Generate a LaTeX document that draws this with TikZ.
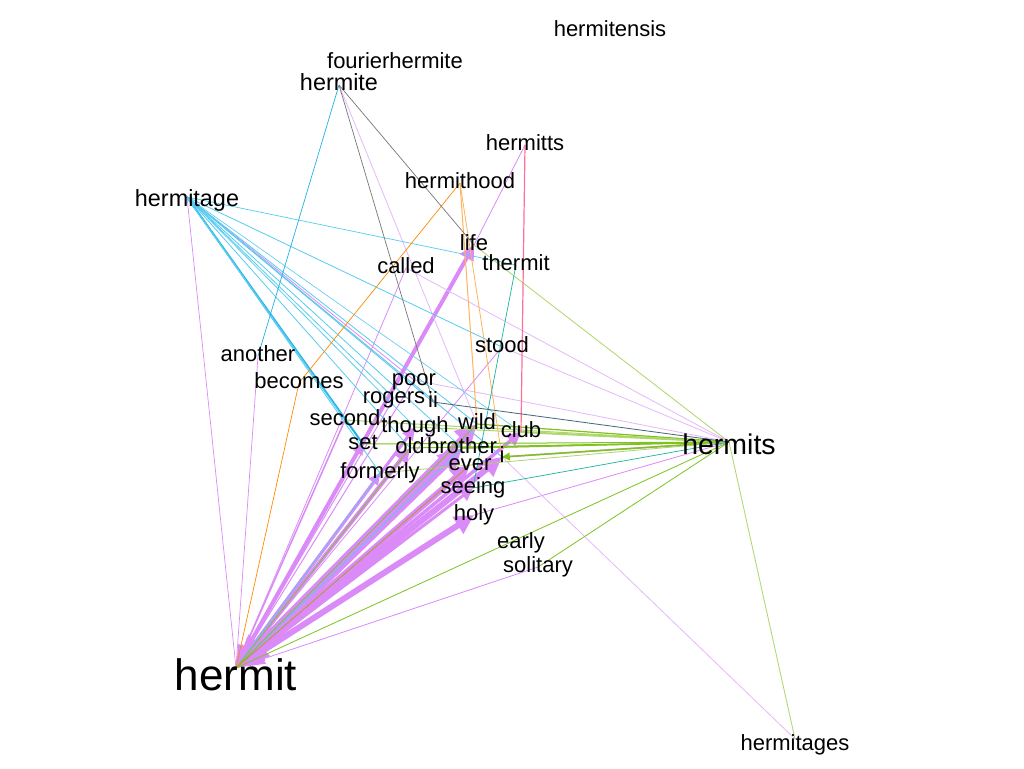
\documentclass[tikz,border=0pt]{standalone}
\usepackage{fontspec}
\setmainfont{Liberation Sans}
\usetikzlibrary{arrows.meta}
\pgfdeclarelayer{bg}
\pgfsetlayers{bg,main}
\definecolor{vio}{HTML}{DB8BF8}
\definecolor{liv}{HTML}{E6B8FA}
\definecolor{cya}{HTML}{55CCF0}
\definecolor{dcy}{HTML}{22B0E8}
\definecolor{grn}{HTML}{7DC21E}
\definecolor{lgr}{HTML}{AED66A}
\definecolor{org}{HTML}{FF8A00}
\definecolor{lor}{HTML}{FFB35A}
\definecolor{pnk}{HTML}{FF7099}
\definecolor{tea}{HTML}{18B59A}
\definecolor{gry}{HTML}{777777}
\definecolor{slt}{HTML}{446677}
\begin{document}
\begin{tikzpicture}[x=1pt,y=-1pt,
  word/.style={inner sep=0pt, text=black, font=\fontsize{22}{22}\selectfont, text height=15.8pt, text depth=4.6pt},
  midword/.style={inner sep=0pt, text=black, font=\fontsize{23.4}{23.4}\selectfont, text height=16.8pt, text depth=4.9pt},
  bigword/.style={inner sep=0pt, text=black, font=\fontsize{28.5}{28.5}\selectfont, text height=20.4pt, text depth=6pt},
  hugeword/.style={inner sep=0pt, text=black, font=\fontsize{44}{44}\selectfont, text height=31.5pt, text depth=9.2pt},
  vA/.style={draw=vio, line width=#1pt, {Triangle[length=12pt 2.6, width=9pt 2.4]}-{Triangle[length=6pt 2.2, width=6pt 2.2]}},
  ln/.style 2 args={draw=#1, line width=#2pt},
  gA/.style={draw=grn, line width=#1pt, -{Triangle[length=4pt 2.5, width=4pt 2.5]}}
]
\path[use as bounding box] (0,0) rectangle (1024,768);

% nodes
\node[word] (hermitensis) at (610,31) {hermitensis};
\node[word] (fourierhermite) at (395,63) {fourierhermite};
\node[midword] (hermite) at (339,85) {hermite};
\node[word] (hermitts) at (525,145) {hermitts};
\node[word] (hermithood) at (460,183) {hermithood};
\node[midword] (hermitage) at (187,201) {hermitage};
\node[word] (life) at (474,245) {life};
\node[word] (thermit) at (516,265) {thermit};
\node[word] (called) at (406,268) {called};
\node[word] (stood) at (502,347) {stood};
\node[word] (another) at (258,356) {another};
\node[word] (becomes) at (299,383) {becomes};
\node[word] (poor) at (414,380) {poor};
\node[word] (rogers) at (394,398) {rogers};
\node[word] (ii) at (433,402) {ii};
\node[word] (second) at (345,420) {second};
\node[word] (though) at (415,427) {though};
\node[word] (wild) at (477,424) {wild};
\node[word] (club) at (521,432) {club};
\node[word] (set) at (363,444) {set};
\node[word] (old) at (410,448) {old};
\node[word] (brother) at (462,448) {brother};
\node[word] (i) at (502,457) {i};
\node[word] (ever) at (470,465) {ever};
\node[word] (formerly) at (380,473) {formerly};
\node[word] (seeing) at (473,488) {seeing};
\node[word] (holy) at (474,515) {holy};
\node[word] (early) at (521,543) {early};
\node[word] (solitary) at (538,567) {solitary};
\node[bigword] (hermits) at (729,447) {hermits};
\node[hugeword] (hermit) at (236,679) {hermit};
\node[word] (hermitages) at (795,745) {hermitages};

\begin{pgfonlayer}{bg}
\fill[white] (0,0) rectangle (1024,768);
% thick violet arrows to hermit
\draw[vA=4] ([yshift=11pt]hermit.center) -- (life.center);
\draw[vA=7] ([yshift=11pt]hermit.center) -- (wild.center);
\draw[vA=8] ([yshift=11pt]hermit.center) -- (brother.center);
\draw[vA=3.5] ([yshift=11pt]hermit.center) -- (club.center);
\draw[vA=6] ([yshift=11pt]hermit.center) -- (i.center);
\draw[vA=6] ([yshift=11pt]hermit.center) -- (ever.center);
\draw[vA=6] ([yshift=11pt]hermit.center) -- (holy.center);
\draw[vA=4] ([yshift=11pt]hermit.center) -- (old.center);
\draw[vA=3] ([yshift=11pt]hermit.center) -- (seeing.center);
\draw[vA=3] ([yshift=11pt]hermit.center) -- (though.center);
\draw[vA=2.5] ([yshift=11pt]hermit.center) -- (formerly.center);
\draw[vA=2] ([yshift=11pt]hermit.center) -- (set.center);
% thin violet
\draw[ln={vio}{1.5}] ([yshift=11pt]hermit.center) -- (second.center);
\draw[ln={vio}{1}] ([yshift=11pt]hermit.center) -- (rogers.center);
\draw[ln={vio}{1}] ([yshift=11pt]hermit.center) -- (poor.center);
\draw[ln={vio}{0.8}] ([yshift=11pt]hermit.center) -- (stood.center);
\draw[ln={vio}{0.8}] ([yshift=11pt]hermit.center) -- (called.center);
\draw[ln={vio}{0.7}] ([yshift=11pt]hermit.center) -- (another.center);
\draw[ln={vio}{0.7}] ([yshift=11pt]hermit.center) -- ([yshift=4pt]hermitage.center);
\draw[ln={vio}{0.8}] ([yshift=11pt]hermit.center) -- (solitary.center);
\draw[ln={vio}{0.8}] ([yshift=4pt]hermitage.center) -- (poor.center);
\draw[ln={liv}{0.8}] ([yshift=4pt]hermitage.center) -- (i.center);
\draw[ln={liv}{0.8}] (hermite.center) -- (wild.center);
\draw[ln={vio}{0.8}] (hermitts.center) -- (life.center);
\draw[ln={vio}{1.5}] (i.center) -- ([yshift=5pt]hermits.center);
\draw[ln={vio}{1}] (brother.center) -- ([yshift=5pt]hermits.center);
\draw[ln={vio}{0.8}] (holy.center) -- ([yshift=5pt]hermits.center);
\draw[ln={liv}{0.8}] (poor.center) -- ([yshift=5pt]hermits.center);
\draw[ln={liv}{0.8}] (called.center) -- ([yshift=5pt]hermits.center);
\draw[ln={liv}{0.8}] (stood.center) -- ([yshift=5pt]hermits.center);
\draw[ln={liv}{0.8}] (i.center) -- ([yshift=6pt]hermitages.center);
% cyan
\draw[ln={cya}{0.8}] ([yshift=4pt]hermitage.center) -- (stood.center);
\draw[ln={cya}{0.7}] ([yshift=4pt]hermitage.center) -- (thermit.center);
\draw[ln={cya}{0.8}] ([yshift=4pt]hermitage.center) -- (ii.center);
\draw[ln={cya}{0.8}] ([yshift=4pt]hermitage.center) -- (rogers.center);
\draw[ln={cya}{0.8}] ([yshift=4pt]hermitage.center) -- (though.center);
\draw[ln={cya}{0.8}] ([yshift=4pt]hermitage.center) -- (wild.center);
\draw[ln={cya}{0.8}] ([yshift=4pt]hermitage.center) -- (brother.center);
\draw[ln={cya}{0.7}] ([yshift=4pt]hermitage.center) -- (i.center);
\draw[ln={cya}{0.6}] ([yshift=4pt]hermitage.center) -- (club.center);
\draw[ln={dcy}{2}] ([yshift=4pt]hermitage.center) -- (set.center);
\draw[ln={cya}{1}] ([yshift=4pt]hermitage.center) -- (second.center);
\draw[ln={cya}{0.8}] ([yshift=4pt]hermitage.center) -- (old.center);
\draw[ln={cya}{0.8}] ([yshift=4pt]hermitage.center) -- (formerly.center);
\draw[ln={dcy}{0.7}] (hermite.center) -- (another.center);
\draw[ln={cya}{0.7}] ([yshift=11pt]hermit.center) -- (formerly.center);
\draw[ln={cya}{0.7}] ([yshift=11pt]hermit.center) -- (brother.center);
\draw[ln={dcy}{0.7}] ([yshift=11pt]hermit.center) -- (ever.center);
% green
\draw[ln={lgr}{0.8}] (life.center) -- ([yshift=5pt]hermits.center);
\draw[ln={lgr}{0.8}] ([yshift=5pt]hermits.center) -- ([yshift=6pt]hermitages.center);
\draw[ln={grn}{0.8}] ([yshift=11pt]hermit.center) -- ([yshift=5pt]hermits.center);
\draw[ln={grn}{0.8}] (solitary.center) -- ([yshift=5pt]hermits.center);
\draw[ln={lgr}{2}] (club.center) -- ([yshift=5pt]hermits.center);
\draw[ln={grn}{1.2}] (wild.center) -- ([yshift=5pt]hermits.center);
\draw[ln={lgr}{1}] (though.center) -- ([yshift=5pt]hermits.center);
\draw[ln={lgr}{1}] (second.center) -- ([yshift=5pt]hermits.center);
\draw[ln={grn}{1}] (set.center) -- ([yshift=5pt]hermits.center);
\draw[ln={grn}{1}] (old.center) -- ([yshift=5pt]hermits.center);
\draw[ln={grn}{1.5}] (brother.center) -- ([yshift=5pt]hermits.center);
\draw[gA=1.5] ([yshift=5pt]hermits.center) -- (i.center);
\draw[ln={lgr}{0.8}] (formerly.center) -- ([yshift=5pt]hermits.center);
\draw[ln={grn}{0.7}] ([yshift=11pt]hermit.center) -- (wild.center);
\draw[ln={grn}{0.7}] ([yshift=11pt]hermit.center) -- (old.center);
% orange
\draw[ln={org}{0.7}] (hermithood.center) -- (becomes.center);
\draw[ln={org}{0.7}] (becomes.center) -- ([yshift=11pt]hermit.center);
\draw[ln={lor}{1}] (hermithood.center) -- (wild.center);
\draw[ln={lor}{0.8}] (hermithood.center) -- (i.center);
\draw[ln={org}{0.6}] ([yshift=11pt]hermit.center) -- (ever.center);
% pink, teal, gray
\draw[ln={pnk}{1.2}] (hermitts.center) -- (club.center);
\draw[ln={tea}{0.7}] (thermit.center) -- (seeing.center);
\draw[ln={tea}{0.7}] ([yshift=5pt]hermits.center) -- (seeing.center);
\draw[ln={gry}{0.7}] (hermite.center) -- (life.center);
\draw[ln={gry}{0.7}] (hermite.center) -- (ii.center);
\draw[ln={slt}{0.8}] (ii.center) -- ([yshift=5pt]hermits.center);
\end{pgfonlayer}
\end{tikzpicture}
\end{document}
